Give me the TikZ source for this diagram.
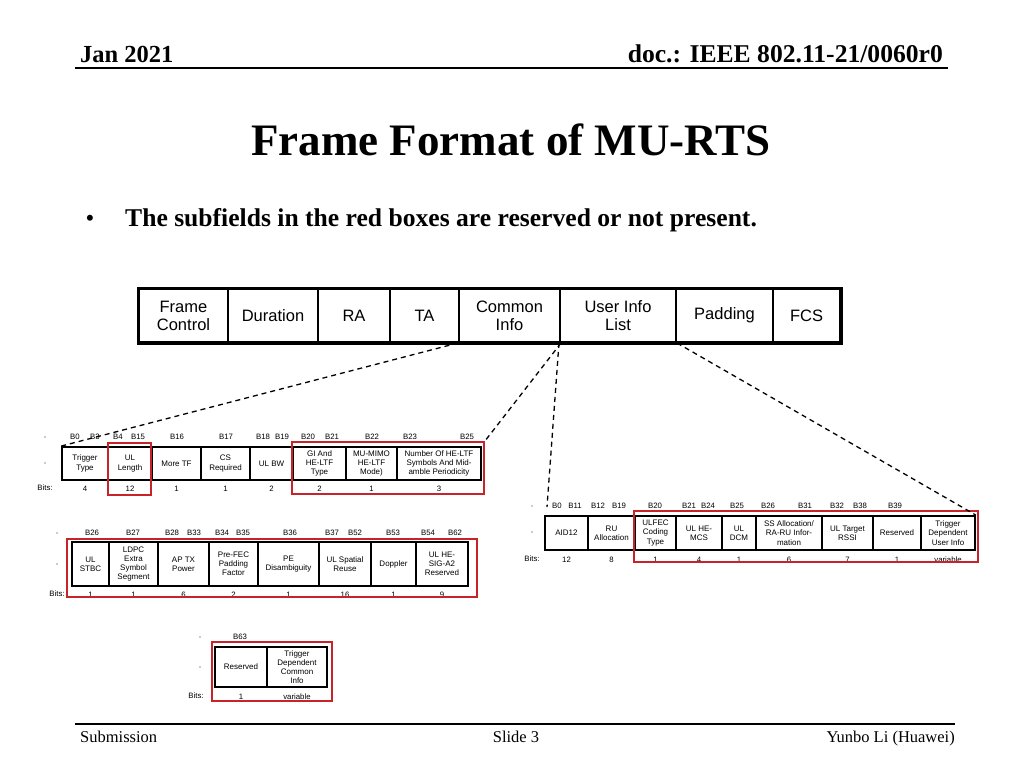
\documentclass[tikz,border=0pt]{standalone}
\usepackage{fontspec}
\setmainfont{Liberation Serif}
\setsansfont{Liberation Sans}
\usetikzlibrary{positioning,calc}
\definecolor{boxred}{RGB}{200,35,40}

\begin{document}
\begin{tikzpicture}[x=1pt, y=-1pt,
  field/.style={draw, line width=2pt, minimum height=53pt, inner sep=0pt, align=center, font=\sffamily\fontsize{16.5}{18}\selectfont},
  subfield/.style={draw, line width=1.8pt, inner sep=0pt, align=center, font=\sffamily\fontsize{8}{9.2}\selectfont},
  smalltext/.style={inner sep=0pt, font=\sffamily\fontsize{7.8}{8}\selectfont},
  rowdot/.style={circle, fill=black!40, inner sep=0pt, minimum size=1.6pt},
  redbox/.style={draw=boxred, line width=1.6pt, inner sep=0pt},
  zoomline/.style={line width=1.3pt, dash pattern=on 5pt off 4pt}
]
\useasboundingbox (0,0) rectangle (1024,768);
\fill[white] (0,0) rectangle (1024,768);

% Header and footer
\node[anchor=base west, inner sep=0pt, font=\bfseries\fontsize{24.5}{24.5}\selectfont] (date) at (80,63) {Jan 2021};
\node[anchor=base east, inner sep=0pt, font=\bfseries\fontsize{25.6}{25.6}\selectfont] (docno) at (943,63) {doc.: IEEE 802.11-21/0060r0};
\draw[line width=2pt] (75,68) -- (948,68);
\draw[line width=1.5pt] (75,724) -- (955,724);
\node[anchor=base west, inner sep=0pt, font=\fontsize{16.5}{16.5}\selectfont] (submission) at (80,742) {Submission};
\node[anchor=base, inner sep=0pt, font=\fontsize{16.5}{16.5}\selectfont] (slide) at (516,742) {Slide 3};
\node[anchor=base east, inner sep=0pt, font=\fontsize{16.5}{16.5}\selectfont] (author) at (955,742) {Yunbo Li (Huawei)};

% Title and bullet
\node[anchor=base, inner sep=0pt, font=\bfseries\fontsize{45}{45}\selectfont] (title) at (511,155) {Frame Format of MU-RTS};
\node[anchor=base, inner sep=0pt, font=\fontsize{25}{25}\selectfont] (bulletdot) at (90,226) {•};
\node[anchor=base west, inner sep=0pt, font=\bfseries\fontsize{25.6}{25.6}\selectfont] (bullet) at (125,226) {The subfields in the red boxes are reserved or not present.};

% MU-RTS frame
\node[field, minimum width=89pt] (fc) at (183.5,315.5) {Frame\\Control};
\node[field, minimum width=90pt] (dur) at (273,315.5) {Duration};
\node[field, minimum width=72pt] (ra) at (354,315.5) {RA};
\node[field, minimum width=69pt] (ta) at (424.5,315.5) {TA};
\node[field, minimum width=101pt] (ci) at (509.5,315.5) {Common\\Info};
\node[field, minimum width=116pt] (uil) at (618,315.5) {User Info\\List};
\node[field, minimum width=97pt] (pad) at (724.5,315.5) {Padding};
\node[field, minimum width=67pt] (fcs) at (806.5,315.5) {FCS};
\draw[line width=3pt] (fc.north west) rectangle (fcs.south east);

% Common Info, first part
\node[rowdot] (d1a) at (45,437) {};
\node[rowdot] (d1b) at (45,463) {};
\node[smalltext] (bits1) at (45,488) {Bits:};
\node[smalltext] (l1a) at (75,437) {B0};
\node[smalltext] (l1b) at (95,437) {B3};
\node[smalltext] (l1c) at (118,437) {B4};
\node[smalltext] (l1d) at (138,437) {B15};
\node[smalltext] (l1e) at (177,437) {B16};
\node[smalltext] (l1f) at (226,437) {B17};
\node[smalltext] (l1g) at (263,437) {B18};
\node[smalltext] (l1h) at (282,437) {B19};
\node[smalltext] (l1i) at (308,437) {B20};
\node[smalltext] (l1j) at (332,437) {B21};
\node[smalltext] (l1k) at (372,437) {B22};
\node[smalltext] (l1l) at (410,437) {B23};
\node[smalltext] (l1m) at (467,437) {B25};
\node[subfield, minimum width=46pt, minimum height=33pt] (trigtype) at (85,463.5) {Trigger\\Type};
\node[subfield, minimum width=44pt, minimum height=33pt] (ullen) at (130,463.5) {UL\\Length};
\node[subfield, minimum width=49pt, minimum height=33pt] (moretf) at (176.5,463.5) {More TF};
\node[subfield, minimum width=49pt, minimum height=33pt] (csreq) at (225.5,463.5) {CS\\Required};
\node[subfield, minimum width=43pt, minimum height=33pt] (ulbw) at (271.5,463.5) {UL BW};
\node[subfield, minimum width=53pt, minimum height=33pt] (giltf) at (319.5,463.5) {GI And\\HE-LTF\\Type};
\node[subfield, minimum width=51pt, minimum height=33pt] (mumimo) at (371.5,463.5) {MU-MIMO\\HE-LTF\\Mode)};
\node[subfield, minimum width=84pt, minimum height=33pt] (numltf) at (439,463.5) {Number Of HE-LTF\\Symbols And Mid-\\amble Periodicity};
\node[smalltext] (n1a) at ($(trigtype.south)+(0,8)$) {4};
\node[smalltext] (n1b) at ($(ullen.south)+(0,8)$) {12};
\node[smalltext] (n1c) at ($(moretf.south)+(0,8)$) {1};
\node[smalltext] (n1d) at ($(csreq.south)+(0,8)$) {1};
\node[smalltext] (n1e) at ($(ulbw.south)+(0,8)$) {2};
\node[smalltext] (n1f) at ($(giltf.south)+(0,8)$) {2};
\node[smalltext] (n1g) at ($(mumimo.south)+(0,8)$) {1};
\node[smalltext] (n1h) at ($(numltf.south)+(0,8)$) {3};

% Common Info, second part
\node[rowdot] (d2a) at (57,533) {};
\node[rowdot] (d2b) at (57,564) {};
\node[smalltext] (bits2) at (57,594) {Bits:};
\node[smalltext] (l2a) at (92,533) {B26};
\node[smalltext] (l2b) at (133,533) {B27};
\node[smalltext] (l2c) at (172,533) {B28};
\node[smalltext] (l2d) at (194,533) {B33};
\node[smalltext] (l2e) at (222,533) {B34};
\node[smalltext] (l2f) at (243,533) {B35};
\node[smalltext] (l2g) at (290,533) {B36};
\node[smalltext] (l2h) at (332,533) {B37};
\node[smalltext] (l2i) at (355,533) {B52};
\node[smalltext] (l2j) at (393,533) {B53};
\node[smalltext] (l2k) at (428,533) {B54};
\node[smalltext] (l2l) at (455,533) {B62};
\node[subfield, minimum width=37pt, minimum height=44pt] (ulstbc) at (90.5,564) {UL\\STBC};
\node[subfield, minimum width=49pt, minimum height=44pt] (ldpc) at (133.5,564) {LDPC\\Extra\\Symbol\\Segment};
\node[subfield, minimum width=51pt, minimum height=44pt] (aptx) at (183.5,564) {AP TX\\Power};
\node[subfield, minimum width=49pt, minimum height=44pt] (prefec) at (233.5,564) {Pre-FEC\\Padding\\Factor};
\node[subfield, minimum width=61pt, minimum height=44pt] (pedis) at (288.5,564) {PE\\Disambiguity};
\node[subfield, minimum width=52pt, minimum height=44pt] (ulsr) at (345,564) {UL Spatial\\Reuse};
\node[subfield, minimum width=45pt, minimum height=44pt] (doppler) at (393.5,564) {Doppler};
\node[subfield, minimum width=52pt, minimum height=44pt] (sigatwo) at (442,564) {UL HE-\\SIG-A2\\Reserved};
\node[smalltext] (n2a) at ($(ulstbc.south)+(0,8)$) {1};
\node[smalltext] (n2b) at ($(ldpc.south)+(0,8)$) {1};
\node[smalltext] (n2c) at ($(aptx.south)+(0,8)$) {6};
\node[smalltext] (n2d) at ($(prefec.south)+(0,8)$) {2};
\node[smalltext] (n2e) at ($(pedis.south)+(0,8)$) {1};
\node[smalltext] (n2f) at ($(ulsr.south)+(0,8)$) {16};
\node[smalltext] (n2g) at ($(doppler.south)+(0,8)$) {1};
\node[smalltext] (n2h) at ($(sigatwo.south)+(0,8)$) {9};

% Common Info, last part
\node[rowdot] (d3a) at (200,637) {};
\node[rowdot] (d3b) at (200,667) {};
\node[smalltext] (bits3) at (196,696) {Bits:};
\node[smalltext] (l3a) at (240,637) {B63};
\node[subfield, minimum width=52pt, minimum height=40pt] (rsvcommon) at (241,667) {Reserved};
\node[subfield, minimum width=60pt, minimum height=40pt] (tdcommon) at (297,667) {Trigger\\Dependent\\Common\\Info};
\node[smalltext] (n3a) at ($(rsvcommon.south)+(0,9)$) {1};
\node[smalltext] (n3b) at ($(tdcommon.south)+(0,9)$) {variable};

% User Info
\node[rowdot] (d4a) at (532,506) {};
\node[rowdot] (d4b) at (532,532) {};
\node[smalltext] (bits4) at (532,559) {Bits:};
\node[smalltext] (l4a) at (557,506) {B0};
\node[smalltext] (l4b) at (575,506) {B11};
\node[smalltext] (l4c) at (598,506) {B12};
\node[smalltext] (l4d) at (619,506) {B19};
\node[smalltext] (l4e) at (655,506) {B20};
\node[smalltext] (l4f) at (689,506) {B21};
\node[smalltext] (l4g) at (708,506) {B24};
\node[smalltext] (l4h) at (737,506) {B25};
\node[smalltext] (l4i) at (768,506) {B26};
\node[smalltext] (l4j) at (805,506) {B31};
\node[smalltext] (l4k) at (837,506) {B32};
\node[smalltext] (l4l) at (860,506) {B38};
\node[smalltext] (l4m) at (895,506) {B39};
\node[subfield, minimum width=43pt, minimum height=34pt] (aid) at (566.5,533) {AID12};
\node[subfield, minimum width=47pt, minimum height=34pt] (rualloc) at (611.5,533) {RU\\Allocation};
\node[subfield, minimum width=41pt, minimum height=34pt] (ulfec) at (655.5,533) {ULFEC\\Coding\\Type};
\node[subfield, minimum width=46pt, minimum height=34pt] (ulmcs) at (699,533) {UL HE-\\MCS};
\node[subfield, minimum width=34pt, minimum height=34pt] (uldcm) at (739,533) {UL\\DCM};
\node[subfield, minimum width=66pt, minimum height=34pt] (ssalloc) at (789,533) {SS Allocation/\\RA-RU Infor-\\mation};
\node[subfield, minimum width=51pt, minimum height=34pt] (ulrssi) at (847.5,533) {UL Target\\RSSI};
\node[subfield, minimum width=48pt, minimum height=34pt] (rsvuser) at (897,533) {Reserved};
\node[subfield, minimum width=54pt, minimum height=34pt] (tduser) at (948,533) {Trigger\\Dependent\\User Info};
\node[smalltext] (n4a) at ($(aid.south)+(0,9)$) {12};
\node[smalltext] (n4b) at ($(rualloc.south)+(0,9)$) {8};
\node[smalltext] (n4c) at ($(ulfec.south)+(0,9)$) {1};
\node[smalltext] (n4d) at ($(ulmcs.south)+(0,9)$) {4};
\node[smalltext] (n4e) at ($(uldcm.south)+(0,9)$) {1};
\node[smalltext] (n4f) at ($(ssalloc.south)+(0,9)$) {6};
\node[smalltext] (n4g) at ($(ulrssi.south)+(0,9)$) {7};
\node[smalltext] (n4h) at ($(rsvuser.south)+(0,9)$) {1};
\node[smalltext] (n4i) at ($(tduser.south)+(0,9)$) {variable};

% Red boxes
\node[redbox, minimum width=43pt, minimum height=52pt] (rb1) at (129.5,469) {};
\node[redbox, minimum width=192pt, minimum height=52pt] (rb2) at (388,468) {};
\node[redbox, minimum width=410pt, minimum height=58pt] (rb3) at (272,568) {};
\node[redbox, minimum width=120pt, minimum height=59pt] (rb4) at (272,671.5) {};
\node[redbox, minimum width=344pt, minimum height=51pt] (rb5) at (806,536.5) {};

% Zoom lines
\coordinate (aidtop) at (547,507);
\draw[zoomline] (ci.south west) -- (trigtype.north west);
\draw[zoomline] (ci.south east) -- (rb2.north east);
\draw[zoomline] (uil.south west) -- (aidtop);
\draw[zoomline] (uil.south east) -- (tduser.north east);

\end{tikzpicture}
\end{document}
